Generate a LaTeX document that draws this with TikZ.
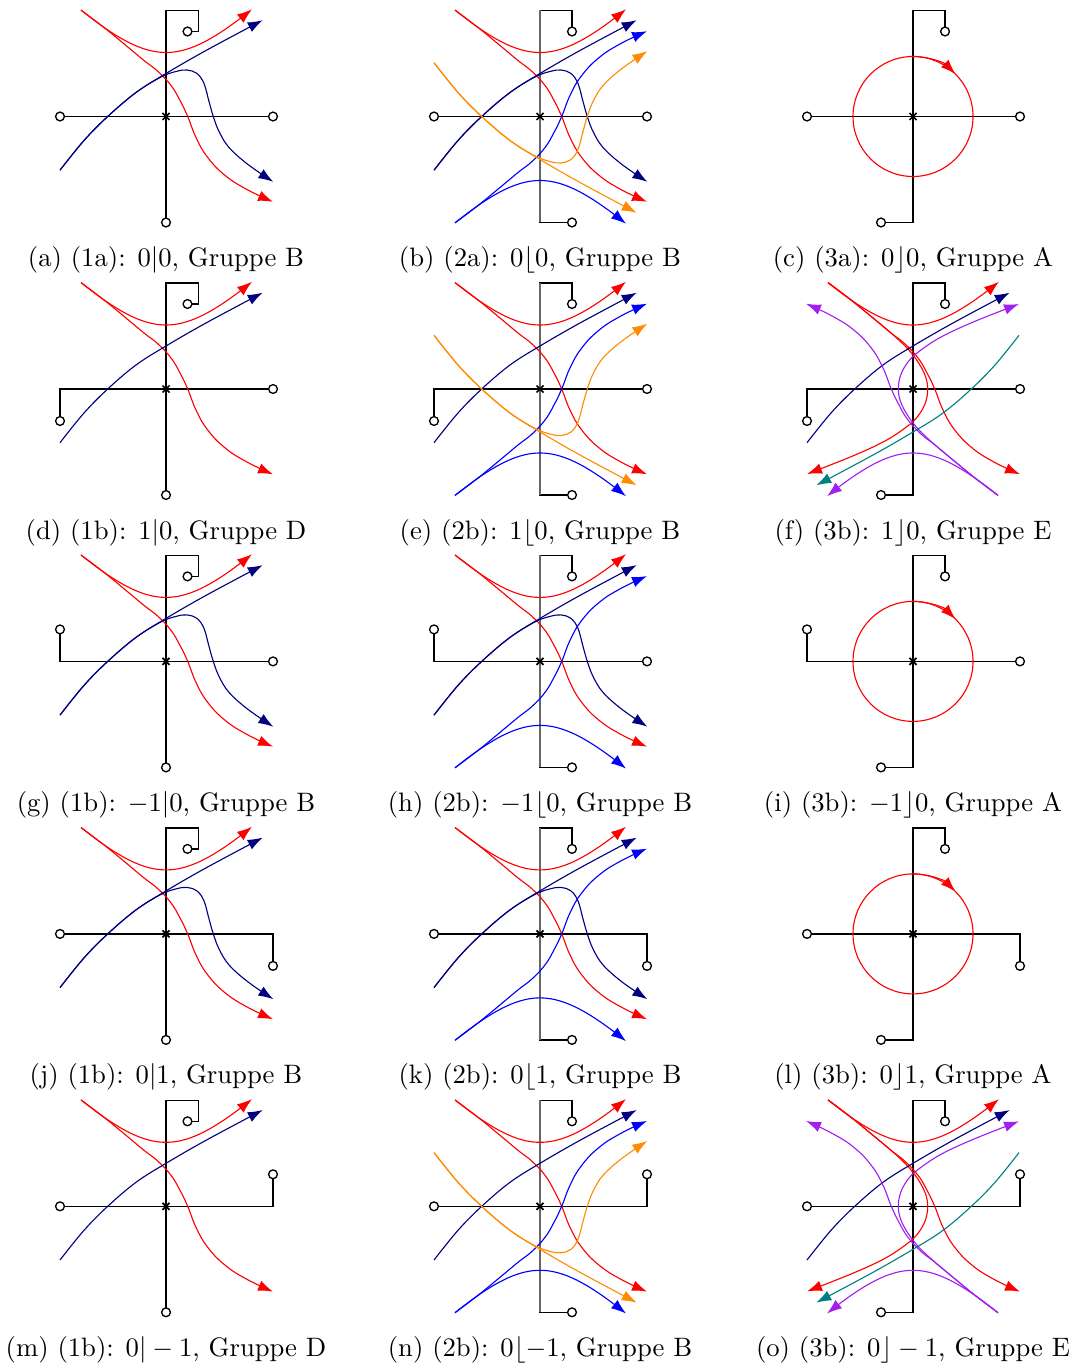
\documentclass[tikz,border=0pt]{standalone}
\usetikzlibrary{arrows.meta}
\definecolor{navyc}{RGB}{0,0,128}
\definecolor{bluec}{RGB}{0,0,255}
\definecolor{orangec}{RGB}{255,140,0}
\definecolor{purplec}{RGB}{160,32,240}
\definecolor{tealc}{RGB}{0,128,128}
\definecolor{redc}{RGB}{255,0,0}
\tikzset{
 crv/.style={line width=0.42pt,-{Latex[length=5.6pt,width=4pt]}},
 ax/.style={line width=0.5pt,black},
 vaxg/.style={line width=0.85pt,black!60},
 termc/.style={line width=0.5pt,black,fill=white},
 crossm/.style={line width=0.65pt,black},
 captext/.style={anchor=base,inner sep=0pt},
}
% curves (local offsets, y downward)
\newcommand\cRone[1]{\draw[crv,#1] plot[domain=-85:86,samples=60] (\x,{-sqrt(4096+\x*\x)});}
\newcommand\cRtwo[1]{\draw[crv,#1] plot[smooth,tension=0.75] coordinates {(-85,-106.4) (-62,-89) (-40,-71) (-22,-56) (-8,-45) (5,-31) (14,-16) (21.7,0) (30,21) (41,40) (58,58) (80,72.5) (107,85.3)};}
\newcommand\cNone[1]{\draw[crv,#1] plot[smooth,tension=0.6] coordinates {(-106,53.7) (-82,24) (-58.3,0) (-30,-24) (0,-43) (40,-66) (96.7,-96.3)};}
\newcommand\cNtwo[1]{\draw[crv,#1] plot[smooth,tension=0.6] coordinates {(-106,53.7) (-82,24) (-58.3,0) (-30,-24) (-5,-39.5) (10,-45) (21,-46.5) (31,-43) (38,-33) (43,-15) (47.3,0) (53,15) (63,31) (82,48) (107.3,65.3)};}
\newcommand\cRthree[1]{\draw[crv,#1] plot[smooth,tension=0.6] coordinates {(-85,-106.4) (-62,-89) (-40,-71) (-22,-56) (-6,-41) (5,-27) (12.3,-13) (14.7,0) (12.3,14) (5,27) (-6,37.5) (-28,52) (-61,67.3) (-106,85)};}
\newcommand\cCirc{\draw[line width=0.42pt,redc] (0,0) circle[radius=60];
 \draw[crv,redc] (0,-60) arc[start angle=-90,end angle=-45,radius=60];}
\newcommand\Cross{\draw[crossm] (-3.5,-3.5) -- (3.5,3.5) (-3.5,3.5) -- (3.5,-3.5);}
\newcommand\term[1]{\draw[termc] #1 circle[radius=4.4];}
% leads
\newcommand\LP{\draw[ax] (0,0) -- (-106,0); \term{(-106,0)}}
\newcommand\LD{\draw[ax] (0,0) -- (-106,0) -- (-106,32); \term{(-106,32)}}
\newcommand\LU{\draw[ax] (0,0) -- (-106,0) -- (-106,-32); \term{(-106,-32)}}
\newcommand\RP{\draw[ax] (0,0) -- (107,0); \term{(107,0)}}
\newcommand\RD{\draw[ax] (0,0) -- (107,0) -- (107,32); \term{(107,32)}}
\newcommand\RU{\draw[ax] (0,0) -- (107,0) -- (107,-32); \term{(107,-32)}}
\newcommand\TopOne{\draw[ax] (0,0) -- (0,-106) -- (32.5,-106) -- (32.5,-85) -- (21.5,-85); \term{(21.5,-85)}}
\newcommand\TopTwo{\draw[ax] (0,0) -- (0,-106) -- (32,-106) -- (32,-85); \term{(32,-85)}}
\newcommand\BotOne{\draw[ax] (0,0) -- (0,106); \term{(0,106)}}
\newcommand\BotTwo{\draw[ax] (0,0) -- (0,106) -- (32,106); \term{(32,106)}}
\newcommand\BotThree{\draw[ax] (0,0) -- (0,106) -- (-32,106); \term{(-32,106)}}
\newcommand\VGray{\draw[vaxg] (0,-106) -- (0,106);}
% curve sets
\newcommand\SetA{\cRone{redc}\cRtwo{redc}\cNone{navyc}\cNtwo{navyc}}
\newcommand\SetD{\cRone{redc}\cRtwo{redc}\cNone{navyc}}
\newcommand\SetF{\cRone{redc}\cRtwo{redc}\cRthree{redc}\cNone{navyc}
 \begin{scope}[xscale=-1,yscale=-1]\cRone{purplec}\cRtwo{purplec}\cRthree{purplec}\cNone{tealc}\end{scope}}
\newcommand\MirA{\begin{scope}[yscale=-1]\cRone{bluec}\cRtwo{bluec}\cNone{orangec}\cNtwo{orangec}\end{scope}}
\newcommand\MirH{\begin{scope}[yscale=-1]\cRone{bluec}\cRtwo{bluec}\end{scope}}
\newcommand\MirE{\begin{scope}[yscale=-1]\cRone{bluec}\cRtwo{bluec}\cNone{orangec}\cNtwo{orangec}\end{scope}}
\begin{document}
\begin{tikzpicture}[x=0.375pt,y=-0.375pt]
\useasboundingbox (0,0) rectangle (1075,1368);
% ---------- row 1
\begin{scope}[shift={(166,116.5)}]
 \LP\RP\TopOne\BotOne \SetA \Cross
\end{scope}
\begin{scope}[shift={(540,116.5)}]
 \LP\RP\TopTwo\BotTwo\VGray \SetA\MirA \Cross
\end{scope}
\begin{scope}[shift={(913,116.5)}]
 \LP\RP\TopTwo\BotThree \cCirc \Cross
\end{scope}
\node[captext] (capa) at (166,266.5) {(a) (1a): $0|0$, Gruppe B};
\node[captext] (capb) at (540,266.5) {(b) (2a): $0\lfloor0$, Gruppe B};
\node[captext] (capc) at (913,266.5) {(c) (3a): $0\rfloor0$, Gruppe A};
% ---------- row 2
\begin{scope}[shift={(166,389)}]
 \LD\RP\TopOne\BotOne \SetD \Cross
\end{scope}
\begin{scope}[shift={(540,389)}]
 \LD\RP\TopTwo\BotTwo\VGray \SetD\MirE \Cross
\end{scope}
\begin{scope}[shift={(913,389)}]
 \LD\RP\TopTwo\BotThree \SetF \Cross
\end{scope}
\node[captext] (capd) at (166,539) {(d) (1b): $1|0$, Gruppe D};
\node[captext] (cape) at (540,539) {(e) (2b): $1\lfloor0$, Gruppe B};
\node[captext] (capf) at (913,539) {(f) (3b): $1\rfloor0$, Gruppe E};
% ---------- row 3
\begin{scope}[shift={(166,661.4)}]
 \LU\RP\TopOne\BotOne \SetA \Cross
\end{scope}
\begin{scope}[shift={(540,661.4)}]
 \LU\RP\TopTwo\BotTwo\VGray \SetA\MirH \Cross
\end{scope}
\begin{scope}[shift={(913,661.4)}]
 \LU\RP\TopTwo\BotThree \cCirc \Cross
\end{scope}
\node[captext] (capg) at (166,811.4) {(g) (1b): $-1|0$, Gruppe B};
\node[captext] (caph) at (540,811.4) {(h) (2b): $-1\lfloor0$, Gruppe B};
\node[captext] (capi) at (913,811.4) {(i) (3b): $-1\rfloor0$, Gruppe A};
% ---------- row 4
\begin{scope}[shift={(166,933.9)}]
 \LP\RD\TopOne\BotOne \SetA \Cross
\end{scope}
\begin{scope}[shift={(540,933.9)}]
 \LP\RD\TopTwo\BotTwo\VGray \SetA\MirH \Cross
\end{scope}
\begin{scope}[shift={(913,933.9)}]
 \LP\RD\TopTwo\BotThree \cCirc \Cross
\end{scope}
\node[captext] (capj) at (166,1083.9) {(j) (1b): $0|1$, Gruppe B};
\node[captext] (capk) at (540,1083.9) {(k) (2b): $0\lfloor1$, Gruppe B};
\node[captext] (capl) at (913,1083.9) {(l) (3b): $0\rfloor1$, Gruppe A};
% ---------- row 5
\begin{scope}[shift={(166,1206.3)}]
 \LP\RU\TopOne\BotOne \SetD \Cross
\end{scope}
\begin{scope}[shift={(540,1206.3)}]
 \LP\RU\TopTwo\BotTwo\VGray \SetD\MirE \Cross
\end{scope}
\begin{scope}[shift={(913,1206.3)}]
 \LP\RU\TopTwo\BotThree \SetF \Cross
\end{scope}
\node[captext] (capm) at (166,1356.3) {(m) (1b): $0|-1$, Gruppe D};
\node[captext] (capn) at (540,1356.3) {(n) (2b): $0\lfloor-1$, Gruppe B};
\node[captext] (capo) at (913,1356.3) {(o) (3b): $0\rfloor-1$, Gruppe E};
\end{tikzpicture}
\end{document}
